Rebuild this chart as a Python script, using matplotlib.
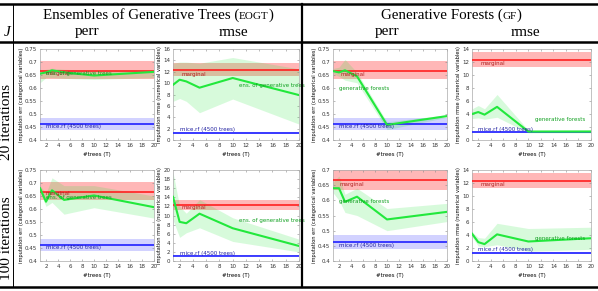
import numpy as np
import matplotlib
matplotlib.use("Agg")
import matplotlib.pyplot as plt
from matplotlib.lines import Line2D
from matplotlib.offsetbox import TextArea, HPacker, AnnotationBbox

# liczba drzew T
trees = [1, 2, 3, 5, 10, 20]

# 20 iteracji - EOGT
eogt20_perr = [0.655, 0.660, 0.668, 0.660, 0.648, 0.662]
eogt20_perr_lo = [0.620, 0.640, 0.640, 0.637, 0.633, 0.640]
eogt20_perr_hi = [0.668, 0.672, 0.676, 0.672, 0.668, 0.670]
eogt20_rmse = [9.7, 10.6, 10.3, 9.2, 10.9, 7.9]
eogt20_rmse_lo = [6.8, 7.3, 6.8, 4.8, 7.2, 2.8]
eogt20_rmse_hi = [13.5, 13.7, 13.7, 13.5, 14.5, 12.5]

# 20 iteracji - GF
gf20_perr = [0.665, 0.660, 0.668, 0.645, 0.458, 0.492]
gf20_perr_lo = [0.655, 0.645, 0.630, 0.620, 0.440, 0.487]
gf20_perr_hi = [0.675, 0.680, 0.710, 0.660, 0.470, 0.497]
gf20_rmse = [4.0, 4.3, 3.9, 5.1, 1.3, 1.3]
gf20_rmse_lo = [3.3, 3.4, 3.2, 3.5, 1.1, 1.1]
gf20_rmse_hi = [4.8, 5.3, 4.8, 7.0, 1.5, 1.6]

# 100 iteracji - EOGT
eogt100_perr = [0.680, 0.628, 0.672, 0.635, 0.652, 0.607]
eogt100_perr_lo = [0.665, 0.610, 0.625, 0.580, 0.605, 0.565]
eogt100_perr_hi = [0.690, 0.660, 0.720, 0.690, 0.690, 0.650]
eogt100_rmse = [14.1, 8.6, 8.3, 10.4, 7.2, 3.3]
eogt100_rmse_lo = [9.0, 5.2, 6.2, 7.3, 4.3, 2.0]
eogt100_rmse_hi = [19.5, 12.0, 10.5, 13.5, 9.5, 4.8]

# 100 iteracji - GF
gf100_perr = [0.640, 0.640, 0.595, 0.612, 0.537, 0.562]
gf100_perr_lo = [0.625, 0.600, 0.560, 0.550, 0.500, 0.530]
gf100_perr_hi = [0.660, 0.680, 0.620, 0.640, 0.573, 0.590]
gf100_rmse = [4.2, 2.9, 2.6, 4.1, 3.0, 3.5]
gf100_rmse_lo = [3.7, 2.3, 2.2, 2.5, 1.5, 1.8]
gf100_rmse_hi = [4.5, 3.6, 3.5, 5.8, 5.0, 5.2]

# linie odniesienia (marginal, mice.rf): wartosc, dol, gora
marginal_perr = [0.667, 0.633, 0.703]
mice_perr = [0.462, 0.440, 0.485]
marginal_rmse = [12.3, 11.2, 13.5]
mice_rmse = [1.2, 1.05, 1.35]

W, H = 598, 291
fig = plt.figure(figsize=(W / 100, H / 100), dpi=100)
fig.patch.set_facecolor("white")

GREEN = "#22e83c"
RED = "#ff2020"
BLUE = "#2020ff"


def px_axes(x0, y0, x1, y1):
    return fig.add_axes([x0 / W, 1 - y1 / H, (x1 - x0) / W, (y1 - y0) / H])


def panel(ax, y, lo, hi, kind, ylim, ystep, method, mlab_pos, marg_pos, mice_pos):
    marg = marginal_perr if kind == "perr" else marginal_rmse
    mice = mice_perr if kind == "perr" else mice_rmse
    ax.axhspan(marg[1], marg[2], color=RED, alpha=0.32, lw=0, zorder=1)
    ax.axhspan(mice[1], mice[2], color=BLUE, alpha=0.2, lw=0, zorder=1)
    ax.fill_between(trees, lo, hi, color=GREEN, alpha=0.18, lw=0, zorder=2)
    ax.axhline(marg[0], color=RED, lw=1.2, zorder=3)
    ax.axhline(mice[0], color=BLUE, lw=1.2, zorder=3)
    ax.plot(trees, y, color=GREEN, lw=1.5, zorder=4)

    fs = 4
    ax.text(*marg_pos, "marginal", color="#b02020", fontsize=fs, va="center", zorder=5)
    ax.text(*mice_pos, "mice.rf (4500 trees)", color="#2020a0", fontsize=fs, va="center", zorder=5)
    ax.text(*mlab_pos, method, color="#10a020", fontsize=fs, va="center", zorder=5)

    ax.set_xlim(1, 20)
    ax.set_ylim(*ylim)
    ax.set_xticks(np.arange(2, 21, 2))
    yt = np.arange(ylim[0], ylim[1] + ystep / 2, ystep)
    ax.set_yticks(yt)
    if kind == "perr":
        ax.set_yticklabels(["%g" % round(v, 2) for v in yt])
        ax.set_ylabel("imputation err (categorical variables)", fontsize=3.6, labelpad=1)
    else:
        ax.set_yticklabels(["%d" % v for v in yt])
        ax.set_ylabel("imputation rmse (numerical variables)", fontsize=3.6, labelpad=1)
    ax.set_xlabel("#trees (T)", fontsize=4, labelpad=3)
    ax.tick_params(direction="in", length=1.5, width=0.4, labelsize=4,
                   colors="#888888", labelcolor="#333333", pad=2,
                   top=True, right=True)
    for s in ax.spines.values():
        s.set_color("#aaaaaa")
        s.set_linewidth(0.5)


cols = [(40, 154), (173, 299), (333, 447), (472, 591)]
rows = [(49, 140), (170, 261)]
ens = "ens. of generative trees"
gfl = "generative forests"

# wiersz 1 (20 iteracji)
panel(px_axes(cols[0][0], rows[0][0], cols[0][1], rows[0][1]),
      eogt20_perr, eogt20_perr_lo, eogt20_perr_hi, "perr", (0.4, 0.75), 0.05,
      ens, (2.0, 0.655), (2.0, 0.655), (2.0, 0.452))
panel(px_axes(cols[1][0], rows[0][0], cols[1][1], rows[0][1]),
      eogt20_rmse, eogt20_rmse_lo, eogt20_rmse_hi, "rmse", (0, 16), 2,
      ens, (11.0, 9.6), (2.3, 11.6), (2.0, 1.8))
panel(px_axes(cols[2][0], rows[0][0], cols[2][1], rows[0][1]),
      gf20_perr, gf20_perr_lo, gf20_perr_hi, "perr", (0.4, 0.75), 0.05,
      gfl, (2.0, 0.6), (2.2, 0.652), (2.0, 0.452))
panel(px_axes(cols[3][0], rows[0][0], cols[3][1], rows[0][1]),
      gf20_rmse, gf20_rmse_lo, gf20_rmse_hi, "rmse", (0, 14), 2,
      gfl, (11.0, 3.2), (2.3, 11.8), (2.0, 1.6))

# wiersz 2 (100 iteracji)
panel(px_axes(cols[0][0], rows[1][0], cols[0][1], rows[1][1]),
      eogt100_perr, eogt100_perr_lo, eogt100_perr_hi, "perr", (0.4, 0.75), 0.05,
      ens, (2.0, 0.645), (2.0, 0.66), (2.0, 0.452))
panel(px_axes(cols[1][0], rows[1][0], cols[1][1], rows[1][1]),
      eogt100_rmse, eogt100_rmse_lo, eogt100_rmse_hi, "rmse", (0, 20), 2,
      ens, (11.0, 8.8), (2.3, 11.8), (2.0, 1.6))
panel(px_axes(cols[2][0], rows[1][0], cols[2][1], rows[1][1]),
      gf100_perr, gf100_perr_lo, gf100_perr_hi, "perr", (0.4, 0.7), 0.05,
      gfl, (2.0, 0.595), (2.0, 0.652), (2.0, 0.452))
panel(px_axes(cols[3][0], rows[1][0], cols[3][1], rows[1][1]),
      gf100_rmse, gf100_rmse_lo, gf100_rmse_hi, "rmse", (0, 14), 2,
      gfl, (11.0, 3.4), (2.3, 11.8), (2.0, 1.8))

# linie tabeli
def fline(x0, y0, x1, y1, lw):
    fig.add_artist(Line2D([x0 / W, x1 / W], [1 - y0 / H, 1 - y1 / H],
                          transform=fig.transFigure, color="black", lw=lw))

fline(0, 4, W, 4, 1.8)
fline(0, 42, W, 42, 1.8)
fline(0, 287, W, 287, 1.8)
fline(13, 4, 13, 287, 0.7)
fline(302, 4, 302, 287, 1.6)

# naglowki
serif = "Liberation Serif"


def header(x, y, main, sc):
    box = HPacker(children=[
        TextArea(main + " (", textprops=dict(family=serif, size=10.8)),
        TextArea(sc, textprops=dict(family=serif, size=8)),
        TextArea(")", textprops=dict(family=serif, size=10.8)),
    ], align="baseline", pad=0, sep=0)
    fig.add_artist(AnnotationBbox(box, (x / W, 1 - y / H), xycoords="figure fraction",
                                  frameon=False, box_alignment=(0.5, 0.5), pad=0))


header(158, 15, "Ensembles of Generative Trees", "EOGT")
header(451, 15, "Generative Forests", "GF")

for x, t in [(87, "perr"), (233, "rmse"), (387, "perr"), (525, "rmse")]:
    fig.text(x / W, 1 - 32 / H, t, family=serif, size=11, ha="center", va="center")
fig.text(7 / W, 1 - 32 / H, "J", family=serif, style="italic", size=11, ha="center", va="center")

fig.text(7 / W, 1 - 122 / H, "20 iterations", family=serif, size=11,
         rotation=90, ha="center", va="center")
fig.text(7 / W, 1 - 238 / H, "100 iterations", family=serif, size=11,
         rotation=90, ha="center", va="center")

plt.savefig("out.png", dpi=100)
